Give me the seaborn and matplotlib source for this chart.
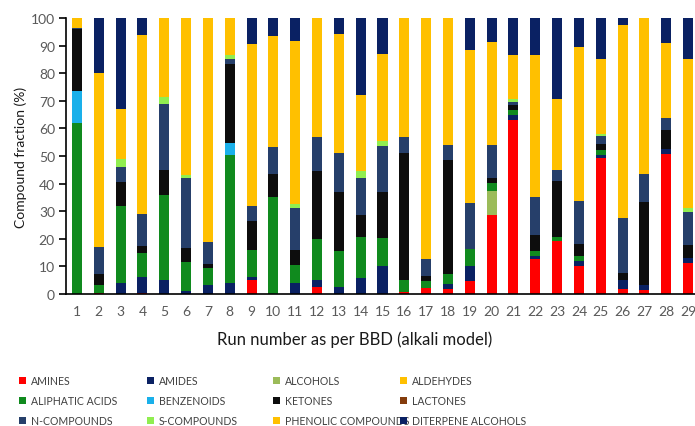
import matplotlib
matplotlib.use("Agg")
import matplotlib.pyplot as plt
from matplotlib.patches import Patch
import numpy as np
import seaborn as sns

# Run numbers of the Box-Behnken design (alkali model)
runs = [str(i) for i in range(1, 30)]

# Compound class fractions (%) per run, bottom-to-top stacking order
amines = [0, 0.5, 0, 0.5, 0, 0, 0, 0, 5, 0, 0, 2.4, 0, 0, 0, 0.8, 2, 1.8, 4.8, 28.7,
          63.1, 12.7, 19.3, 10.3, 49.2, 1.8, 1.6, 50.8, 11.2]
amides = [0, 0, 4, 5.5, 5, 1.2, 3.3, 4, 1.3, 0, 4, 2.8, 2.4, 5.7, 10.3, 0, 0, 1.8, 5.2, 0,
          1.6, 1.2, 0, 1.8, 1.2, 3.4, 1.7, 1.8, 1.7]
alcohols = [0, 0, 0, 0, 0, 0, 0, 0, 0, 0, 0, 0, 0, 0, 0, 0, 0, 0, 0, 8.8,
            0, 0, 0, 0, 0, 0, 0, 0, 0]
aldehydes = [0] * 29
aliphatic_acids = [62, 2.8, 28, 8.7, 31, 10.3, 6, 46.4, 9.7, 35.3, 6.6, 14.8, 13, 15.1, 9.9,
                   4.4, 2.8, 3.7, 6.3, 2.6, 1.8, 1.8, 1.5, 1.6, 1.6, 0, 0, 0, 0]
benzenoids = [11.5, 0, 0, 0, 0, 0, 0, 4.4, 0, 0, 0, 0, 0, 0, 0, 0, 0, 0, 0, 0,
              0, 0, 0, 0, 0, 0, 0, 0, 0]
ketones = [22.5, 4, 8.5, 2.8, 9, 5, 1.5, 28.6, 10.6, 8.2, 5.4, 24.7, 21.5, 8, 16.7, 45.8,
           1.9, 41.1, 0, 1.9, 1.8, 5.5, 20.3, 4.4, 2.4, 2.3, 30, 7, 4.9]
lactones = [0] * 29
n_compounds = [0.5, 9.7, 5.5, 11.5, 24, 25.5, 7.9, 1.8, 5.2, 9.9, 15, 12.1, 14.1, 13.2, 16.9,
               5.8, 6, 5.6, 16.7, 12, 1.2, 13.8, 4, 15.5, 3, 19.9, 10.2, 4.1, 11.8]
s_compounds = [0, 0, 3, 0, 2.5, 1, 0, 1.5, 0, 0, 1.6, 0, 0, 2.7, 1.6, 0, 0, 0, 0, 0,
               1.2, 0, 0, 0, 0.6, 0, 0, 0, 1.4]
phenolic = [3.5, 63, 18, 65, 28.5, 57, 81.3, 13.3, 58.6, 39.9, 58.9, 43.2, 43.3, 27.3, 31.6,
            43.2, 87.3, 46, 55.3, 37.3, 15.8, 51.5, 25.6, 55.9, 27.2, 70.2, 56.5, 27.3, 54.2]
diterpene_alcohols = [0, 20, 33, 6, 0, 0, 0, 0, 9.6, 6.7, 8.5, 0, 5.7, 28, 13, 0, 0, 0, 11.7,
                      8.7, 13.5, 13.5, 29.3, 10.5, 14.8, 2.4, 0, 9, 14.8]

labels = ["AMINES", "AMIDES", "ALCOHOLS", "ALDEHYDES", "ALIPHATIC ACIDS", "BENZENOIDS",
          "KETONES", "LACTONES", "N-COMPOUNDS", "S-COMPOUNDS", "PHENOLIC COMPOUNDS",
          "DITERPENE ALCOHOLS"]
series = [amines, amides, alcohols, aldehydes, aliphatic_acids, benzenoids, ketones,
          lactones, n_compounds, s_compounds, phenolic, diterpene_alcohols]
colors = ["#FF0000", "#0A2163", "#9BBB59", "#FFC000", "#108A1E", "#1AB0EA", "#0D0D0D",
          "#843C0C", "#263F6A", "#90EE50", "#FFC000", "#0A2163"]

sns.set_theme(style="white")
plt.rcParams["font.family"] = ["Lato", "DejaVu Sans"]

fig = plt.figure(figsize=(6.95, 4.27), dpi=100)
ax = fig.add_axes([66 / 695, 132 / 427, 633 / 695, 276 / 427])

# Stacked bars: draw cumulative totals from the top layer down so each
# lower layer covers the one above it.
cumulative = np.cumsum(np.array(series, dtype=float), axis=0)
for k in range(len(series) - 1, -1, -1):
    sns.barplot(x=runs, y=cumulative[k], color=colors[k], width=0.46,
                saturation=1, ax=ax, edgecolor="none", linewidth=0)

ax.set_xlim(-0.5, 28.5)
ax.set_ylim(0, 100)
ax.set_yticks(np.arange(0, 101, 10))
ax.set_xticks(np.arange(-0.5, 28.6, 1), minor=True)
ax.tick_params(axis="x", which="major", length=0, pad=8, labelsize=10, labelcolor="#595959")
ax.tick_params(axis="x", which="minor", length=5, width=1.2, color="black", direction="out")
ax.tick_params(axis="y", which="major", length=5, width=1.2, color="black", direction="out",
               labelsize=10, labelcolor="#595959", pad=3)
ax.tick_params(bottom=True, left=True)

for side in ("top", "right"):
    ax.spines[side].set_visible(False)
for side in ("left", "bottom"):
    ax.spines[side].set_color("black")
    ax.spines[side].set_linewidth(1.2)

ax.set_xlabel("Run number as per BBD (alkali model)", fontsize=12, color="#1a1a1a")
ax.set_ylabel("Compound fraction (%)", fontsize=10, color="#1a1a1a")
ax.xaxis.set_label_coords((355 - 66) / 633, -(340 - 295) / 276)
ax.yaxis.set_label_coords(-(66 - 21) / 633, 0.5)
ax.xaxis.label.set_verticalalignment("center")
ax.yaxis.label.set_verticalalignment("center")

# Legend laid out as four columns, read row by row
col_x = [19, 147, 273, 400]
for c in range(4):
    idx = [c, c + 4, c + 8]
    handles = [Patch(facecolor=colors[i], edgecolor="none", label=labels[i]) for i in idx]
    leg = fig.legend(handles=handles, loc="upper left",
                     bbox_to_anchor=(col_x[c] / 695, 1 - 376 / 427),
                     frameon=False, fontsize=7.6,
                     handlelength=0.7, handleheight=0.7,
                     handletextpad=0.4, labelspacing=0.85, borderpad=0, borderaxespad=0)
    for t in leg.get_texts():
        t.set_color("#404040")

fig.savefig("out.png", dpi=100)
